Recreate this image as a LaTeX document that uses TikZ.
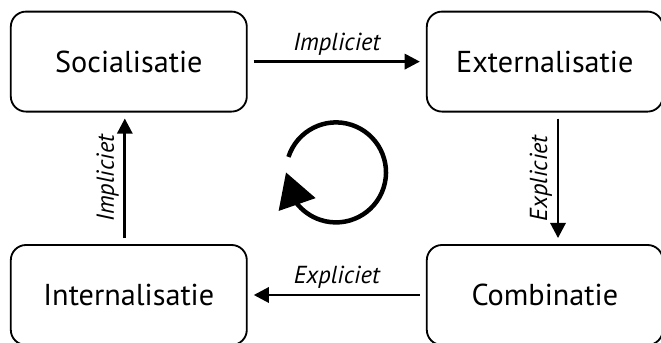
\documentclass[tikz,border=0pt]{standalone}
\usepackage{fontspec}
\setmainfont{PT Sans}
\usetikzlibrary{arrows.meta,bending}

\begin{document}
\begin{tikzpicture}[>={Triangle[length=0.38cm,width=0.38cm]},
  phase/.style={draw,line width=1.3pt,rounded corners=0.38cm,minimum width=5.9cm,minimum height=2.5cm,font=\fontsize{21.5}{25}\selectfont},
  flow/.style={->,line width=2pt,shorten <=0.15cm,shorten >=0.15cm},
  kind/.style={font=\fontsize{17.5}{20}\selectfont\itshape}]
\useasboundingbox (0,0) rectangle (16.525,8.55);
\node[phase] (soc) at (3.22,7.01) {Socialisatie};
\node[phase] (ext) at (13.62,7.01) {Externalisatie};
\node[phase] (int) at (3.22,1.175) {Internalisatie};
\node[phase] (comb) at (13.62,1.175) {Combinatie};
\draw[flow] (soc) -- (ext) node[midway,above,kind]{Impliciet};
\draw[flow] ([xshift=0.33cm]ext.south) -- ([xshift=0.33cm]comb.north) node[midway,rotate=90,anchor=south,kind]{Expliciet};
\draw[flow] (comb) -- (int) node[midway,above,kind]{Expliciet};
\draw[flow] ([xshift=-0.1cm]int.north) -- ([xshift=-0.1cm]soc.south) node[midway,rotate=90,anchor=south,kind]{Impliciet};
% cycle
\coordinate (cyc) at (8.4,4.24);
\draw[line width=3.2pt,-{Triangle[length=0.85cm,width=0.95cm,flex]}] ([shift={(162:1.25)}]cyc) arc[start angle=162,end angle=-180,radius=1.25];
\end{tikzpicture}
\end{document}
